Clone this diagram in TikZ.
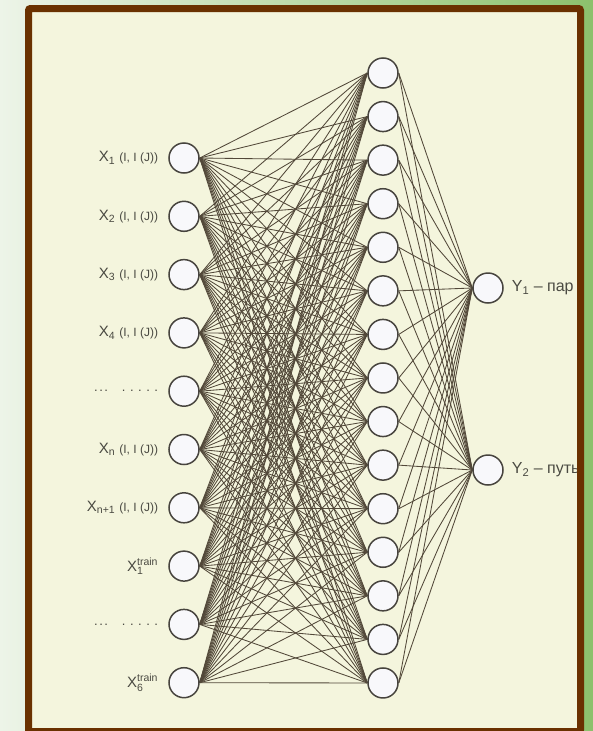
\documentclass[tikz,border=0pt]{standalone}
\usepackage{amsmath}
\usepackage{fontspec}
\setmainfont{Liberation Sans}
\usetikzlibrary{positioning,backgrounds}

\definecolor{bgleft}{HTML}{EDF4E8}
\definecolor{bgright}{HTML}{8CC16C}
\definecolor{sheet}{HTML}{F4F5DD}
\definecolor{rim}{HTML}{6A3100}
\definecolor{wire}{HTML}{524839}
\definecolor{ring}{HTML}{47443E}
\definecolor{cell}{HTML}{F8F8FB}
\definecolor{ink}{HTML}{4A4A42}

\newcommand{\argIJ}{{\fontsize{12}{13}\selectfont(I, I (J))}}
\newcommand{\dotrow}{.\hspace{1.5pt}.\hspace{1.5pt}.\hspace{14pt}.\hspace{4.5pt}.\hspace{4.5pt}.\hspace{4.5pt}.\hspace{4.5pt}.}

\begin{document}
\begin{tikzpicture}[x=1pt,y=-1pt,
  neu/.style={circle,draw=ring,fill=cell,line width=1.5pt,minimum size=30pt,inner sep=0pt},
  lab/.style={inner sep=1pt,text=ink,font=\fontsize{15}{17}\selectfont},
  syn/.style={draw=wire,line width=0.85pt}]
  \useasboundingbox (0,0) rectangle (593,731);
  % layers
  \foreach \i in {1,...,10}
    \node[neu] (x\i) at (184,{158+58.3*(\i-1)}) {};
  \foreach \j in {1,...,15}
    \node[neu] (h\j) at (383,{73+43.57*(\j-1)}) {};
  \node[neu] (y1) at (488,288) {};
  \node[neu] (y2) at (488,470) {};
  % input labels
  \node[lab,left=9pt of x1] (lx1) {X\textsubscript{1} \argIJ};
  \node[lab,left=9pt of x2] (lx2) {X\textsubscript{2} \argIJ};
  \node[lab,left=9pt of x3] (lx3) {X\textsubscript{3} \argIJ};
  \node[lab,left=9pt of x4] (lx4) {X\textsubscript{4} \argIJ};
  \node[lab,left=9pt of x5,font=\fontsize{13}{14}\selectfont] (lx5) {\dotrow};
  \node[lab,left=9pt of x6] (lx6) {X\textsubscript{n} \argIJ};
  \node[lab,left=9pt of x7] (lx7) {X\textsubscript{n+1} \argIJ};
  \node[lab,left=9pt of x8] (lx8) {$\text{X}_{\text{1}}^{\text{train}}$};
  \node[lab,left=9pt of x9,font=\fontsize{13}{14}\selectfont] (lx9) {\dotrow};
  \node[lab,left=9pt of x10] (lx10) {$\text{X}_{\text{6}}^{\text{train}}$};
  % output labels, cut by the frame
  \begin{scope}
    \clip (0,0) rectangle (578,731);
    \node[lab,right=7pt of y1,font=\fontsize{16}{18}\selectfont] (ly1) {Y\textsubscript{1} – пар};
    \node[lab,right=7pt of y2,font=\fontsize{16}{18}\selectfont] (ly2) {Y\textsubscript{2} – путь};
  \end{scope}
  \begin{scope}[on background layer]
    \shade[left color=bgleft,right color=bgright] (0,0) rectangle (593,731);
    \fill[sheet] (28,8) rectangle (581,731);
    \foreach \i in {1,...,10}
      \foreach \j in {1,...,15}
        \draw[syn] (x\i.east) -- (h\j.west);
    \foreach \j in {1,...,15} {
      \draw[syn] (h\j.east) -- (y1.west);
      \draw[syn] (h\j.east) -- (y2.west);
    }
  \end{scope}
  \draw[rim,line width=7pt,rounded corners=2pt] (28.5,8.5) rectangle (580.5,731.5);
\end{tikzpicture}
\end{document}
